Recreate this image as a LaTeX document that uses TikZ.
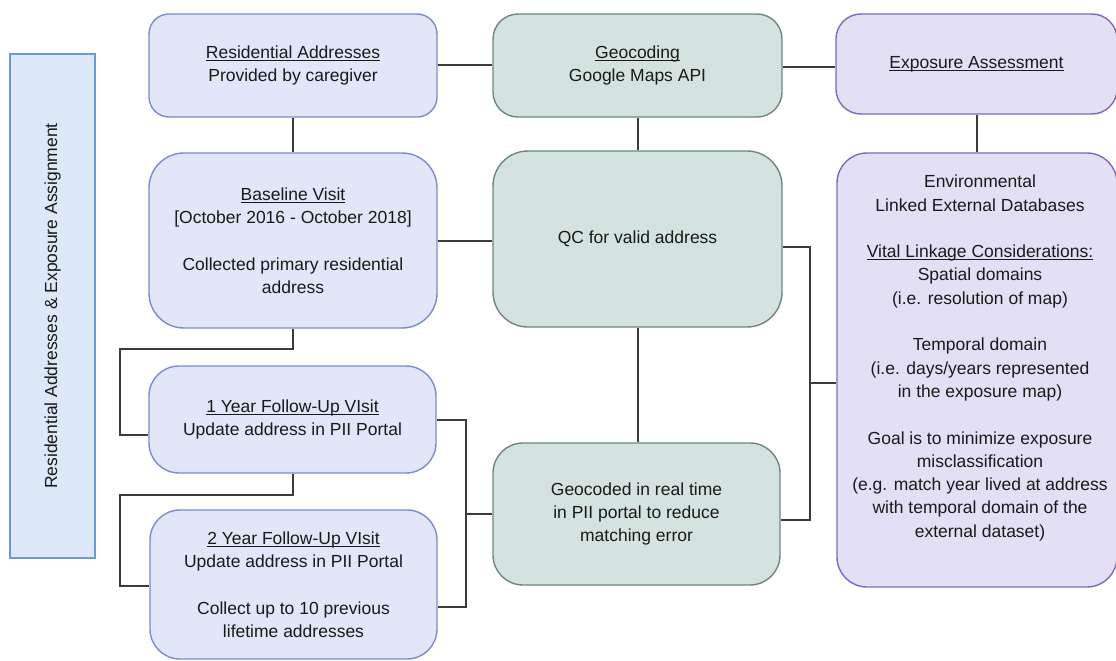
\documentclass[tikz,border=0pt]{standalone}
\usepackage{fontspec}
\setmainfont{Liberation Sans}
\newsavebox\myulbox
\newcommand{\myul}[1]{\sbox\myulbox{#1}\rlap{\rule[-2.4pt]{\wd\myulbox}{1pt}}\usebox\myulbox}
\definecolor{txt}{HTML}{1A1A1A}
\definecolor{bluefill}{HTML}{E1E6F8}
\definecolor{bluebd}{HTML}{7B8BD0}
\definecolor{greenfill}{HTML}{D5E3E0}
\definecolor{greenbd}{HTML}{6F8582}
\definecolor{purpfill}{HTML}{E3E0F6}
\definecolor{purpbd}{HTML}{8466C0}
\definecolor{lblfill}{HTML}{DDE9F8}
\definecolor{lblbd}{HTML}{6B9BD1}
\definecolor{linec}{HTML}{3C3C3C}
\tikzset{
  basetxt/.style={align=center, font=\fontsize{17.5}{23.3}\selectfont, text=txt, inner sep=0pt},
  bluebox/.style={basetxt, draw=bluebd, fill=bluefill, line width=1.4pt},
  greenbox/.style={basetxt, draw=greenbd, fill=greenfill, line width=1.4pt},
  purplebox/.style={basetxt, draw=purpbd, fill=purpfill, line width=1.4pt},
  lblbox/.style={basetxt, draw=lblbd, fill=lblfill, line width=1.4pt},
  conn/.style={draw=linec, line width=2pt},
}
\begin{document}
\begin{tikzpicture}[x=1pt,y=-1pt]
\useasboundingbox (0,0) rectangle (1116,661);
\fill[white] (0,0) rectangle (1116,661);

% left label
\node[lblbox, rotate=90, minimum width=504pt, minimum height=85pt] (lbl) at (52.5,306)
  {Residential Addresses \& Exposure Assignment};

% blue column
\node[bluebox, minimum width=288pt, minimum height=103pt, rounded corners=20pt] (res) at (293,65.5)
  {\myul{Residential Addresses}\\Provided by caregiver};
\node[bluebox, minimum width=288pt, minimum height=175pt, rounded corners=35pt] (base) at (293,240.5)
  {\myul{Baseline Visit}\\{[}October 2016 - October 2018{]}\\[23.3pt]Collected primary residential\\address};
\node[bluebox, minimum width=287pt, minimum height=107pt, rounded corners=30pt] (y1) at (292.5,419.5)
  {\myul{1 Year Follow-Up VIsit}\\Update address in PII Portal};
\node[bluebox, minimum width=287pt, minimum height=149pt, rounded corners=30pt] (y2) at (293.5,584.5)
  {\myul{2 Year Follow-Up VIsit}\\Update address in PII Portal\\[23.3pt]Collect up to 10 previous\\lifetime addresses};

% green column
\node[greenbox, minimum width=289pt, minimum height=103pt, rounded corners=25pt] (geo) at (637.5,65.5)
  {\myul{Geocoding}\\Google Maps API};
\node[greenbox, minimum width=289pt, minimum height=176pt, rounded corners=35pt] (qc) at (637.5,239)
  {QC for valid address};
\node[greenbox, minimum width=287pt, minimum height=142pt, rounded corners=30pt] (gcd) at (636.5,514)
  {Geocoded in real time\\in PII portal to reduce\\matching error};

% purple column
\node[purplebox, minimum width=281pt, minimum height=100pt, rounded corners=25pt] (exp) at (976.5,64)
  {\myul{Exposure Assessment}};
\node[purplebox, minimum width=280pt, minimum height=434pt, rounded corners=30pt] (env) at (977,370) {};
\node[basetxt] (envt) at (980,358)
  {Environmental\\Linked External Databases\\[23.3pt]\myul{Vital Linkage Considerations:}\\Spatial domains\\(i.e. resolution of map)\\[23.3pt]Temporal domain\\(i.e. days/years represented\\in the exposure map)\\[23.3pt]Goal is to minimize exposure\\misclassification\\(e.g. match year lived at address\\with temporal domain of the\\external dataset)};

% connectors
\draw[conn] (res.east) -- (res.east -| geo.west);
\draw[conn] ([yshift=-2pt]geo.east) -- ([yshift=-2pt]geo.east -| exp.west);
\draw[conn] (res.south) -- (res.south |- base.north);
\draw[conn] (geo.south) -- (geo.south |- qc.north);
\draw[conn] (exp.south) -- (exp.south |- env.north);
\draw[conn] (base.east) -- (base.east -| qc.west);
\draw[conn] (qc.south) -- (qc.south |- gcd.north);

\coordinate (k1) at (120,349);
\coordinate (k2) at (120,495);
\draw[conn] (base.south) |- (k1) |- ([yshift=-15pt]y1.west);
\draw[conn] (y1.south) |- (k2) |- ([yshift=-1pt]y2.west);

\coordinate (busL) at (466,514);
\draw[conn] (y1.east) -| (busL) |- ([yshift=-22pt]y2.east);
\draw[conn] (busL) -- (busL -| gcd.west);

\coordinate (busR) at (810,383);
\draw[conn] ([yshift=-8pt]qc.east) -| (busR) |- ([yshift=-6pt]gcd.east);
\draw[conn] (busR) -- (busR -| env.west);
\end{tikzpicture}
\end{document}
